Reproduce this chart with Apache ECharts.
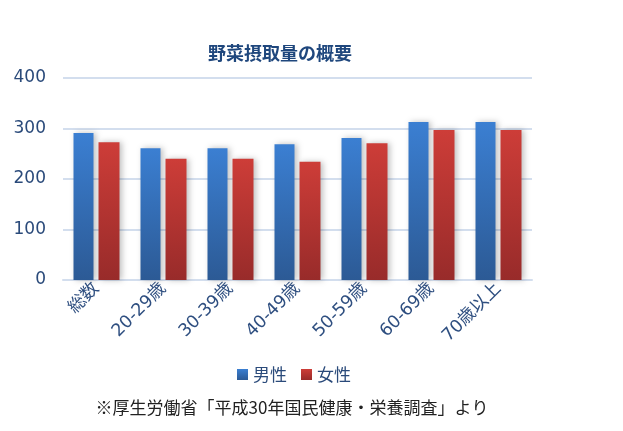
<!DOCTYPE html>
<html><head><meta charset="utf-8">
<script src="https://cdn.jsdelivr.net/npm/echarts@6/dist/echarts.min.js"></script>
<style>html,body{margin:0;padding:0;background:#fff}#c{width:623px;height:431px}</style>
</head><body><div id="c"></div>
<script>
const categories = ['総数','20-29歳','30-39歳','40-49歳','50-59歳','60-69歳','70歳以上'];
const male = [291, 261, 261, 269, 281, 313, 313];
const female = [273, 240, 240, 234, 271, 297, 297];
const yTicks = [0, 100, 200, 300, 400];
const seriesNames = ['男性','女性'];
const titleText = '野菜摂取量の概要';
const footnote = '※厚生労働省「平成30年国民健康・栄養調査」より';

const chart = echarts.init(document.getElementById('c'));
const grad = (top, bottom) => new echarts.graphic.LinearGradient(0,0,0,1,[{offset:0,color:top},{offset:1,color:bottom}]);
const font = '"Noto Sans CJK JP", "Noto Sans", sans-serif';
chart.setOption({
  animation:false,
  textStyle:{fontFamily:font},
  title:[{text:titleText,left:275,top:39,textAlign:'center',textStyle:{fontSize:18,fontWeight:'bold',color:'#1f477d',fontFamily:font}},
         {text:footnote,left:287,top:394,textAlign:'center',textStyle:{fontSize:17,fontWeight:'normal',color:'#222',fontFamily:font}}],
  legend:{data:seriesNames,left:237,top:366,itemWidth:11,itemHeight:11,itemGap:14,icon:'rect',
    textStyle:{fontSize:17,color:'#2a4a7a',fontFamily:font},padding:[0,0,0,0]},
  grid:{left:63,right:91,top:78,bottom:151},
  xAxis:{type:'category',data:categories,
    axisLine:{show:true,lineStyle:{color:'#d3deee',width:2}},axisTick:{show:false},
    axisLabel:{rotate:45,interval:0,fontSize:17.5,color:'#2f4f80',margin:6,fontFamily:'"DejaVu Sans", "Noto Sans CJK JP", sans-serif'}},
  yAxis:{type:'value',min:yTicks[0],max:yTicks[yTicks.length-1],interval:100,
    axisLine:{show:false},axisTick:{show:false},
    axisLabel:{fontSize:17,color:'#2a4a7a',margin:17,fontFamily:'"DejaVu Sans", sans-serif'},
    splitLine:{lineStyle:{color:'#d3deee',width:2}}},
  series:[
    {name:seriesNames[0],type:'bar',data:male,barWidth:20,barGap:'25%',
      itemStyle:{color:grad('#3b7fd2','#2c5a95'),shadowColor:'rgba(0,0,0,0.25)',shadowBlur:6,shadowOffsetX:2}},
    {name:seriesNames[1],type:'bar',data:female,barWidth:21,
      itemStyle:{color:grad('#cd3d38','#982b2a'),shadowColor:'rgba(0,0,0,0.25)',shadowBlur:6,shadowOffsetX:2}}
  ]
});
</script></body></html>
